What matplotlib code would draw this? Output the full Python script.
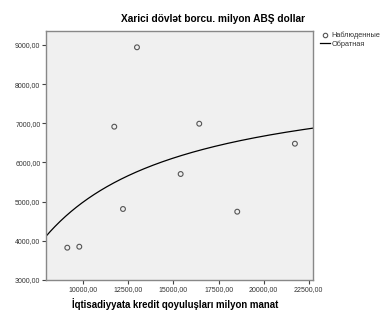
import numpy as np
import matplotlib
matplotlib.use("Agg")
import matplotlib.pyplot as plt
from matplotlib.ticker import FuncFormatter
from matplotlib.lines import Line2D

plt.rcParams['font.family'] = ['Liberation Sans', 'DejaVu Sans']

# Data
credit = [9113, 9778, 11718, 12201, 12977, 15399, 16430, 18537, 21735]
debt = [3825, 3850, 6914, 4813, 8941, 5706, 6990, 4744, 6480]
x_ticks = [10000, 12500, 15000, 17500, 20000, 22500]
y_ticks = [3000, 4000, 5000, 6000, 7000, 8000, 9000]
title = "Xarici dövlət borcu. milyon ABŞ dollar"
xlabel = "İqtisadiyyata kredit qoyuluşları milyon manat"
legend_labels = ["Наблюденные", "Обратная"]

# Inverse model fit: y = b0 + b1/x
xa = np.array(credit, float)
ya = np.array(debt, float)
A = np.column_stack([np.ones_like(xa), 1.0 / xa])
b0, b1 = np.linalg.lstsq(A, ya, rcond=None)[0]

fig = plt.figure(figsize=(3.91, 3.16), dpi=100)
ax = fig.add_axes([46/391, 36/316, (313-46)/391, (280-31)/316])
ax.set_facecolor('#F0F0F0')

xmin, xmax = 7932, 22738
xs = np.linspace(xmin, xmax, 300)
ax.plot(xs, b0 + b1 / xs, color='black', lw=0.9, zorder=2)
ax.scatter(credit, debt, s=12, facecolors='none', edgecolors='#555555', linewidths=0.8, zorder=3)

ax.set_xlim(xmin, xmax)
ax.set_ylim(3000, 9357)
ax.set_xticks(x_ticks)
ax.set_yticks(y_ticks)
fmt = FuncFormatter(lambda v, p: f"{v:.2f}".replace('.', ','))
ax.xaxis.set_major_formatter(fmt)
ax.yaxis.set_major_formatter(fmt)
ax.tick_params(axis='both', labelsize=5, length=3, width=0.8, color='#444444', labelcolor='#333333', pad=1)
for s in ax.spines.values():
    s.set_color('#888888')
    s.set_linewidth(1.0)

fig.text(213/391, 1 - 19/316, title, ha='center', va='center', fontsize=7.3, fontweight='bold')
fig.text(175.5/391, 1 - 304/316, xlabel, ha='center', va='center', fontsize=6.9, fontweight='bold')

# Legend
handles = [Line2D([], [], marker='o', ls='none', markerfacecolor='none', markeredgecolor='#555555', markersize=3.2, markeredgewidth=0.8),
           Line2D([], [], color='black', lw=0.9)]
leg = fig.legend(handles, legend_labels, loc='upper left', bbox_to_anchor=(320/391, 1 - 32/316),
                 frameon=False, fontsize=5.3, handlelength=1.3, handletextpad=0.3, labelspacing=0.15,
                 borderpad=0, borderaxespad=0)
for t in leg.get_texts():
    t.set_color('#333333')

fig.savefig("out.png", dpi=100)
